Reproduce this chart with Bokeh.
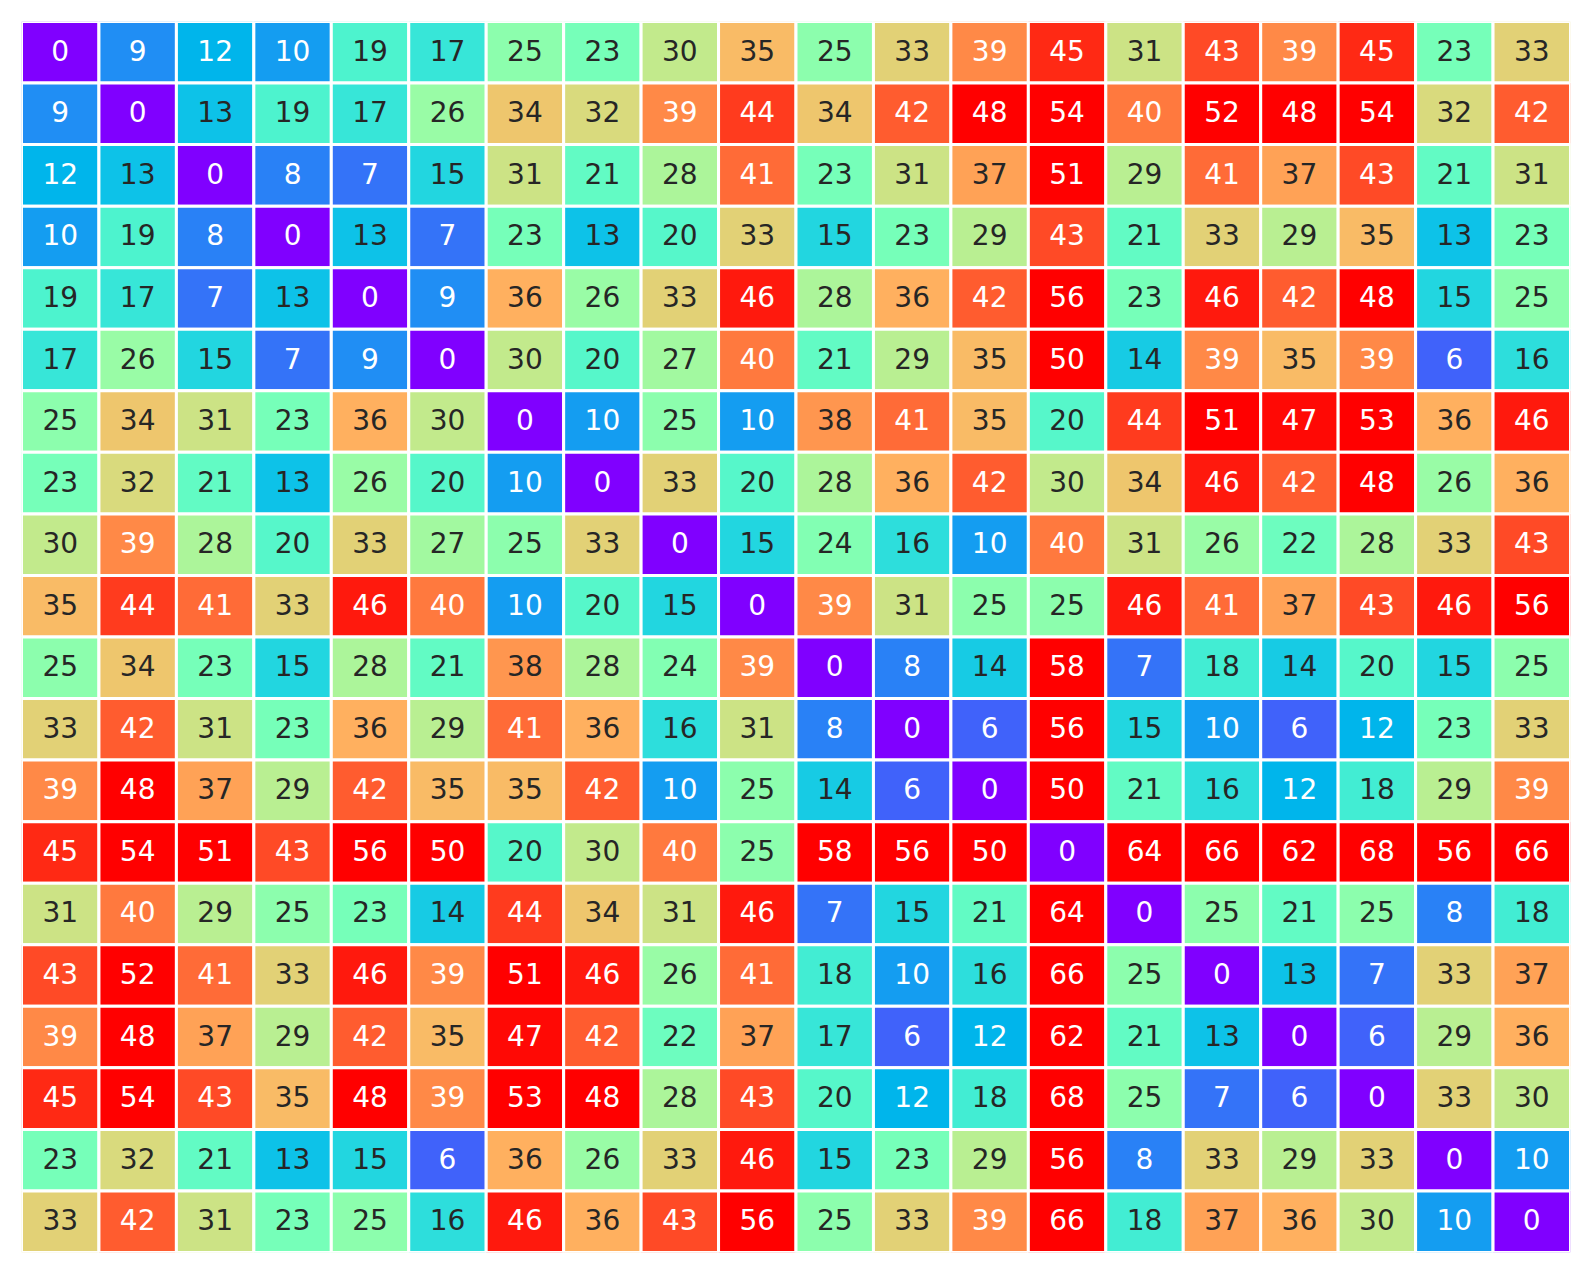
import math
from bokeh.plotting import figure
from bokeh.models import ColumnDataSource, Range1d
from bokeh.core.properties import value
from bokeh.embed import file_html
from bokeh.resources import INLINE

row_labels = [str(i) for i in range(20)]
col_labels = [str(i) for i in range(20)]

matrix = [
    [0, 9, 12, 10, 19, 17, 25, 23, 30, 35, 25, 33, 39, 45, 31, 43, 39, 45, 23, 33],
    [9, 0, 13, 19, 17, 26, 34, 32, 39, 44, 34, 42, 48, 54, 40, 52, 48, 54, 32, 42],
    [12, 13, 0, 8, 7, 15, 31, 21, 28, 41, 23, 31, 37, 51, 29, 41, 37, 43, 21, 31],
    [10, 19, 8, 0, 13, 7, 23, 13, 20, 33, 15, 23, 29, 43, 21, 33, 29, 35, 13, 23],
    [19, 17, 7, 13, 0, 9, 36, 26, 33, 46, 28, 36, 42, 56, 23, 46, 42, 48, 15, 25],
    [17, 26, 15, 7, 9, 0, 30, 20, 27, 40, 21, 29, 35, 50, 14, 39, 35, 39, 6, 16],
    [25, 34, 31, 23, 36, 30, 0, 10, 25, 10, 38, 41, 35, 20, 44, 51, 47, 53, 36, 46],
    [23, 32, 21, 13, 26, 20, 10, 0, 33, 20, 28, 36, 42, 30, 34, 46, 42, 48, 26, 36],
    [30, 39, 28, 20, 33, 27, 25, 33, 0, 15, 24, 16, 10, 40, 31, 26, 22, 28, 33, 43],
    [35, 44, 41, 33, 46, 40, 10, 20, 15, 0, 39, 31, 25, 25, 46, 41, 37, 43, 46, 56],
    [25, 34, 23, 15, 28, 21, 38, 28, 24, 39, 0, 8, 14, 58, 7, 18, 14, 20, 15, 25],
    [33, 42, 31, 23, 36, 29, 41, 36, 16, 31, 8, 0, 6, 56, 15, 10, 6, 12, 23, 33],
    [39, 48, 37, 29, 42, 35, 35, 42, 10, 25, 14, 6, 0, 50, 21, 16, 12, 18, 29, 39],
    [45, 54, 51, 43, 56, 50, 20, 30, 40, 25, 58, 56, 50, 0, 64, 66, 62, 68, 56, 66],
    [31, 40, 29, 25, 23, 14, 44, 34, 31, 46, 7, 15, 21, 64, 0, 25, 21, 25, 8, 18],
    [43, 52, 41, 33, 46, 39, 51, 46, 26, 41, 18, 10, 16, 66, 25, 0, 13, 7, 33, 37],
    [39, 48, 37, 29, 42, 35, 47, 42, 22, 37, 17, 6, 12, 62, 21, 13, 0, 6, 29, 36],
    [45, 54, 43, 35, 48, 39, 53, 48, 28, 43, 20, 12, 18, 68, 25, 7, 6, 0, 33, 30],
    [23, 32, 21, 13, 15, 6, 36, 26, 33, 46, 15, 23, 29, 56, 8, 33, 29, 33, 0, 10],
    [33, 42, 31, 23, 25, 16, 46, 36, 43, 56, 25, 33, 39, 66, 18, 37, 36, 30, 10, 0],
]

VMIN, VMAX = 0.0, 47.5


def rainbow(v):
    x = (v - VMIN) / (VMAX - VMIN)
    x = min(max(x, 0.0), 1.0)
    x = round(x * 255) / 255.0
    r = min(max(abs(2 * x - 0.5), 0), 1)
    g = min(max(math.sin(math.pi * x), 0), 1)
    b = min(max(math.cos(math.pi * x / 2), 0), 1)
    return r, g, b


def lum(rgb):
    def lin(c):
        return c / 12.92 if c <= 0.03928 else ((c + 0.055) / 1.055) ** 2.4
    r, g, b = (lin(c) for c in rgb)
    return 0.2126 * r + 0.7152 * g + 0.0722 * b


xs, ys, fills, texts, tcols = [], [], [], [], []
for i, row in enumerate(matrix):
    for j, v in enumerate(row):
        rgb = rainbow(v)
        xs.append(j + 0.5)
        ys.append(i + 0.5)
        fills.append("#%02x%02x%02x" % tuple(int(round(c * 255)) for c in rgb))
        texts.append(str(v))
        tcols.append("#262626" if lum(rgb) > 0.408 else "#ffffff")

src = ColumnDataSource(dict(x=xs, y=ys, fill=fills, text=texts, tcol=tcols))

p = figure(width=1589, height=1272, output_backend="svg", toolbar_location=None,
           x_range=Range1d(0, 20), y_range=Range1d(20, 0),
           min_border_left=21, min_border_right=19, min_border_top=21, min_border_bottom=20)
p.axis.visible = False
p.grid.visible = False
p.outline_line_color = None
p.background_fill_color = "white"

p.rect(x="x", y="y", width=1, height=1, source=src, fill_color="fill",
       line_color="white", line_width=3)
p.text(x="x", y="y", text="text", source=src, text_color="tcol",
       text_align="center", text_baseline="middle", y_offset=-2,
       text_font=value("DejaVu Sans"), text_font_size="28px")

open("out.html", "w").write(file_html(p, INLINE))
